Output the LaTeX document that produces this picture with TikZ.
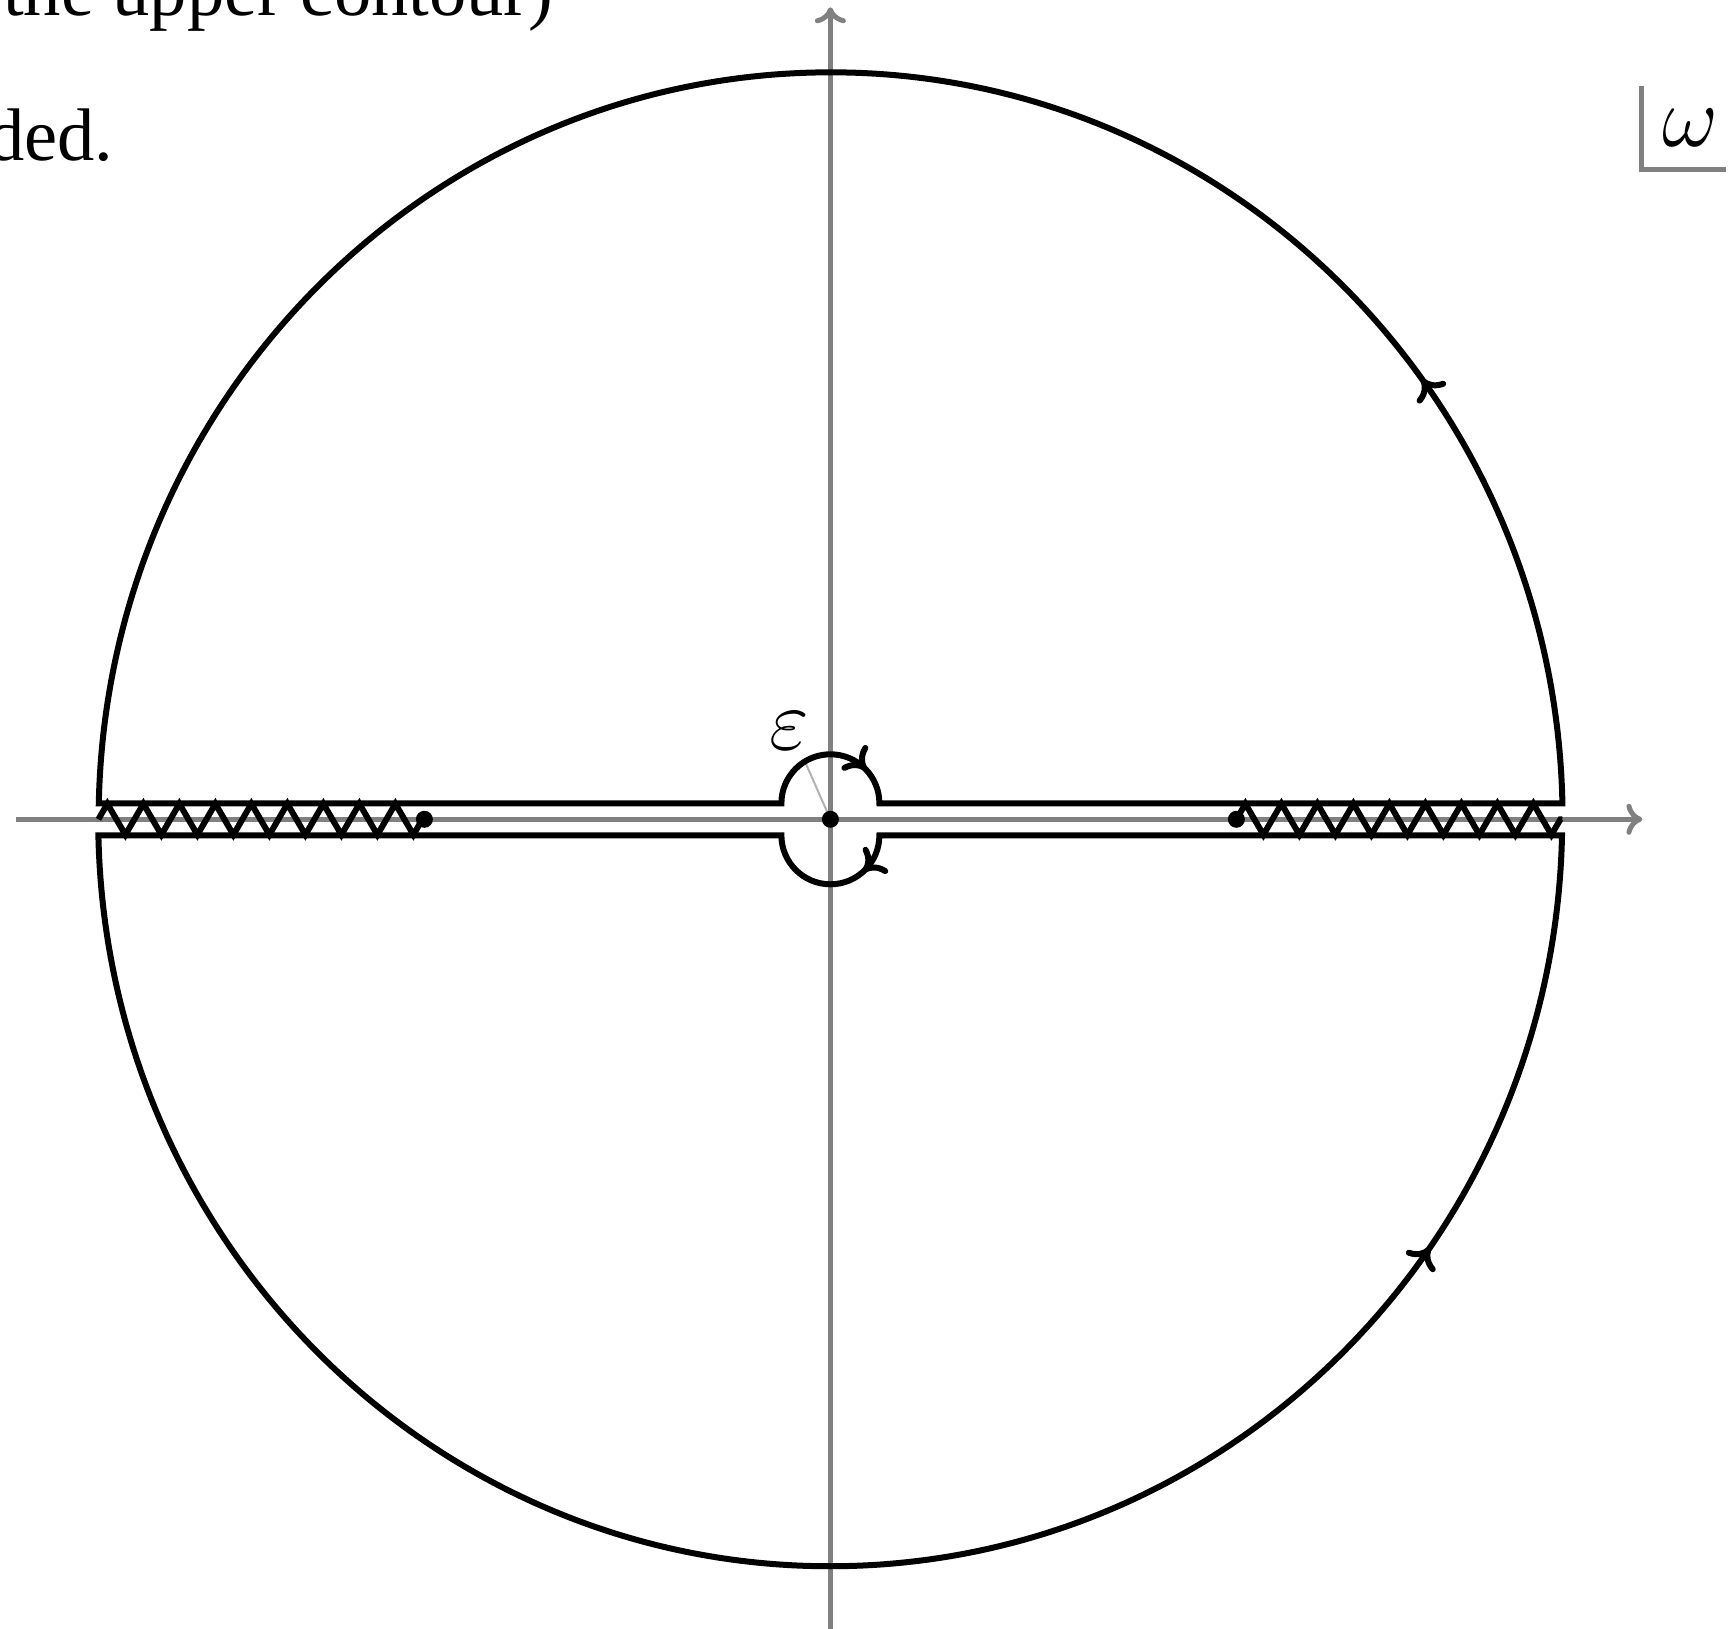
\documentclass[tikz,border=0pt]{standalone}
\usepackage{fontspec}
\setmainfont{Liberation Serif}
\usetikzlibrary{arrows.meta,decorations.pathmorphing,decorations.markings}
\tikzset{
    cmto/.tip={Computer Modern Rightarrow[length=3.8pt,width=7pt]},
    axis/.style={gray,line width=1pt,-{Computer Modern Rightarrow[length=3.2pt,width=6.2pt]}},
    contour/.style={line width=1.2pt,line join=miter},
    cut/.style={line width=1.2pt,decorate,decoration={zigzag,segment length=7.2pt,amplitude=3.1pt}},
    pole/.style={circle,fill,inner sep=0pt,minimum size=3.4pt},
    flow/.style 2 args={postaction={decorate},decoration={markings,
        mark=at position #1 with {\arrow{cmto}},
        mark=at position #2 with {\arrow{cmto}}}},
    prose/.style={anchor=base east,inner sep=0pt,font=\fontsize{14.9}{17}\selectfont}
}

\begin{document}
\begin{tikzpicture}[x=20pt,y=20pt,every node/.style={font=\fontsize{17.6}{20}\selectfont}]
    \useasboundingbox (-8.304,-8.097) rectangle (9.056,8.193);

    % page text behind the figure
    \node[prose] (line1) at (-2.76,8.04) {the upper contour)};
    \node[prose] (line2) at (-7.16,6.59) {ded.};

    % axes
    \draw[axis] (-8.14,0) -- (8.12,0);
    \draw[axis] (0,-8.2) -- (0,8.12);

    % radius of the small circle
    \draw[gray!60,line width=0.4pt] (0,0) -- (113.8:0.61);
    \node (eps) at (-0.41,0.88) {$\varepsilon$};

    % upper and lower contours
    \draw[contour,flow={0.119}{0.811}] (7.32,0.16)
        arc[start angle=1.23,end angle=178.77,x radius=7.32,y radius=7.47]
        -- (-0.49,0.16) arc[start angle=180,end angle=0,radius=0.49] -- cycle;
    \draw[contour,flow={0.486}{0.791}] (-7.32,-0.16)
        arc[start angle=181.23,end angle=358.77,x radius=7.32,y radius=7.47]
        -- (0.49,-0.16) arc[start angle=0,end angle=-180,radius=0.49] -- cycle;

    % branch cuts
    \draw[cut] (-7.32,0) -- (-4.06,0);
    \draw[cut] (4.06,0) -- (7.32,0);

    \node[pole] (left) at (-4.06,0) {};
    \node[pole] (zero) at (0,0) {};
    \node[pole] (right) at (4.06,0) {};

    % plane label
    \node[inner sep=0pt,minimum width=16.5pt,minimum height=16.2pt] (plane) at (8.535,6.915) {\hspace{2.4pt}$\omega$};
    \draw[gray,line width=1pt] (plane.north west) |- (plane.south east);
\end{tikzpicture}
\end{document}
